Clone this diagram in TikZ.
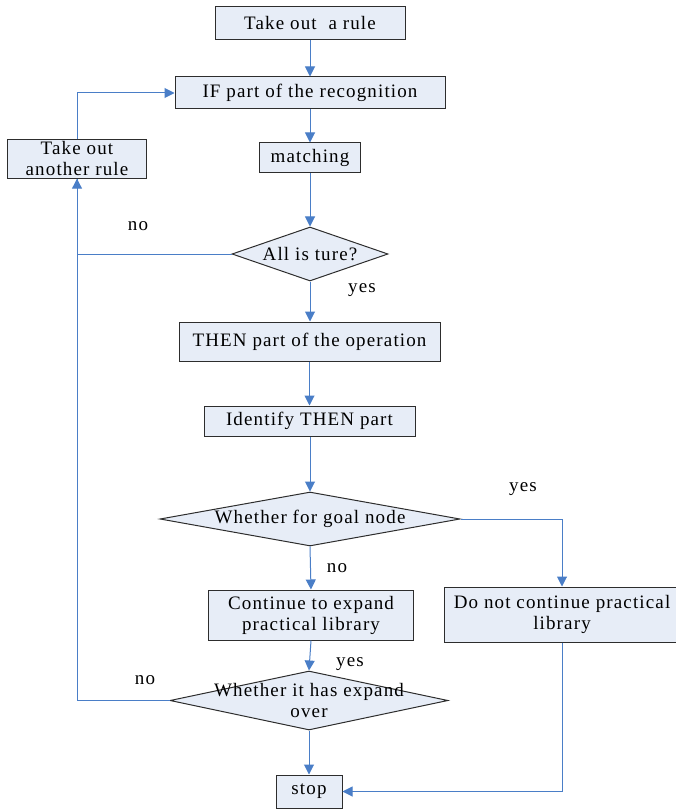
\documentclass[tikz,border=0pt]{standalone}
\usepackage{fontspec}
\setmainfont{Liberation Serif}[LetterSpace=6]
\usetikzlibrary{shapes.geometric,arrows.meta}
\definecolor{boxfill}{RGB}{231,237,247}
\definecolor{boxline}{RGB}{45,45,45}
\definecolor{flowblue}{RGB}{74,126,199}

\begin{document}
\begin{tikzpicture}[x=1pt,y=-1pt,>={Triangle[length=10pt,width=10pt]},font=\fontsize{19}{21}\selectfont,
  stepbox/.style={draw=boxline,fill=boxfill,line width=1pt,align=center,inner sep=2pt},
  decision/.style={draw=boxline,fill=boxfill,line width=1pt,diamond,inner sep=0pt},
  flow/.style={draw=flowblue,line width=1pt}]
\useasboundingbox (0,0) rectangle (675,810);
\node[stepbox,minimum width=190pt,minimum height=33pt] (rule) at (310,23) {Take out\ \ a rule};
\node[stepbox,minimum width=270pt,minimum height=32pt] (ifpart) at (310,93) {IF part of the recognition};
\node[stepbox,minimum width=139pt,minimum height=38pt] (another) at (77,159) {Take out\\another rule};
\node[stepbox,minimum width=101pt,minimum height=30pt] (match) at (310,158) {matching};
\node[decision,minimum width=156pt,minimum height=54pt,label={center:All is ture?}] (ture) at (310,254) {};
\node[stepbox,minimum width=261pt,minimum height=39pt] (thenop) at (309.5,341.5) {THEN part of the operation};
\node[stepbox,minimum width=211pt,minimum height=30pt] (ident) at (309.5,421) {Identify THEN part};
\node[decision,minimum width=300pt,minimum height=54pt,label={center:Whether for goal node}] (goal) at (310,519) {};
\node[stepbox,minimum width=205pt,minimum height=50pt] (cont) at (311,615) {Continue to expand\\practical library};
\node[stepbox,minimum width=236pt,minimum height=55pt] (donot) at (562,614.5) {Do not continue practical\\library};
\node[decision,minimum width=278pt,minimum height=59pt,label={[align=center]center:Whether it has expand\\over}] (over) at (309,700.5) {};
\node[stepbox,minimum width=66pt,minimum height=33pt] (stop) at (309,791.5) {stop};
% answers
\node (no1) at (138,226) {no};
\node (yes1) at (362,290) {yes};
\node (yes2) at (523,489) {yes};
\node (no2) at (337,568) {no};
\node (yes3) at (350,664) {yes};
\node (no3) at (145,680) {no};
% connectors
\draw[flow,->] (rule) -- (ifpart);
\draw[flow,->] (ifpart) -- (match);
\draw[flow,->] (match) -- (ture);
\draw[flow,->] (ture.west) -| (another.south);
\draw[flow,->] (another.north) |- (ifpart.west);
\draw[flow,->] (ture) -- (thenop.north -| ture);
\draw[flow,->] (thenop.south -| ident) -- (ident);
\draw[flow,->] (ident.south -| goal) -- (goal);
\draw[flow,->] (goal.east) -| (donot.north);
\draw[flow,->] (goal.south) -- (cont.north);
\draw[flow,->] (cont.south) -- (over.north);
\draw[flow] (over.west) -| (another.south);
\draw[flow,->] (over.south) -- (stop.north);
\draw[flow,->] (donot.south) |- (stop.east);
\end{tikzpicture}
\end{document}
